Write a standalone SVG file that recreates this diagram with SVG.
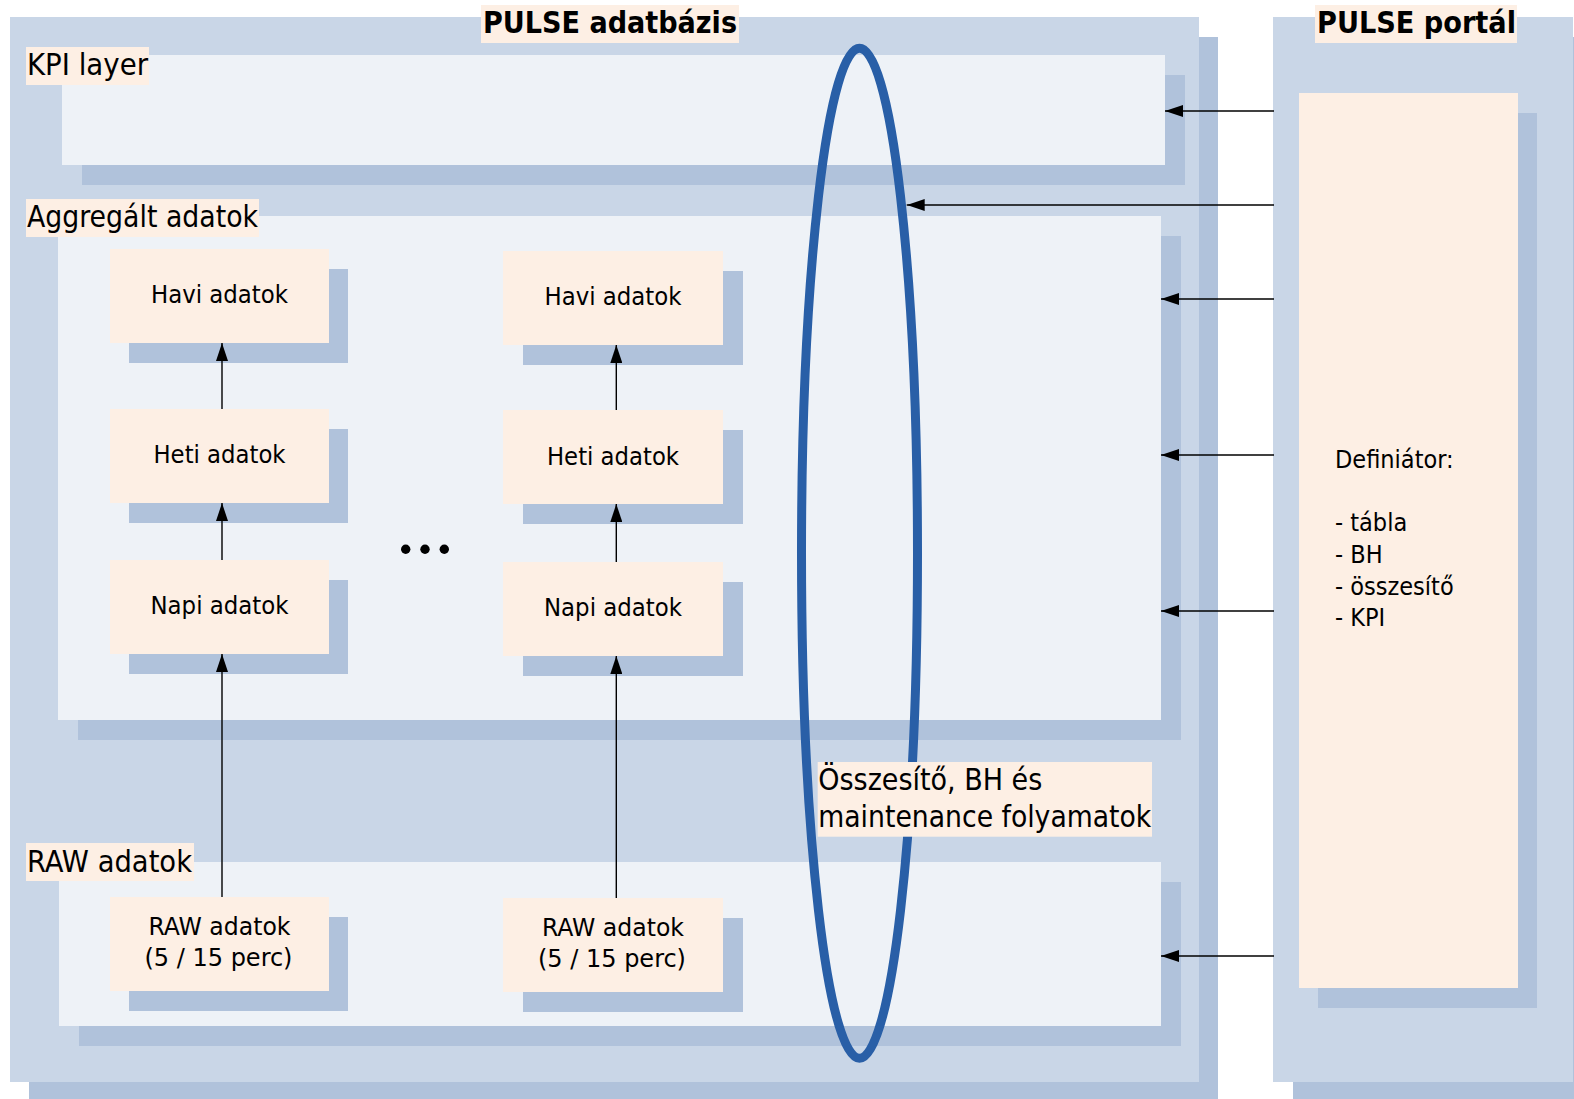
<svg xmlns="http://www.w3.org/2000/svg" width="1574" height="1099" viewBox="0 0 1574 1099">
  <defs>
    <style>
      .outer { fill: #C9D6E7; }
      .shadow { fill: #B0C2DB; }
      .inner { fill: #EEF2F7; }
      .peach { fill: #FDEFE4; }
      text { font-family: "DejaVu Sans Condensed", "DejaVu Sans", sans-serif; font-stretch: condensed; fill: #000; }
      .title { font-size: 30px; font-weight: bold; }
      .label { font-size: 30px; }
      .node { font-size: 25px; text-anchor: middle; }
      .def { font-size: 25px; }
      .conn { stroke: #000; stroke-width: 1.4; fill: none; }
    </style>
    <marker id="arrow" viewBox="0 0 18 12" refX="18" refY="6" markerWidth="18" markerHeight="12" markerUnits="userSpaceOnUse" orient="auto">
      <path d="M0,0 L18,6 L0,12 Z" fill="#000"/>
    </marker>
  </defs>

  <rect width="1574" height="1099" fill="#FFFFFF"/>

  <!-- PULSE adatbázis container -->
  <g id="db">
    <rect class="shadow" x="29" y="37" width="1189" height="1065"/>
    <rect class="outer" x="10" y="17" width="1189" height="1065"/>
    <rect class="peach" x="481" y="5" width="258" height="38"/>
    <text class="title" x="483" y="33" textLength="254" lengthAdjust="spacingAndGlyphs">PULSE adatbázis</text>
  </g>

  <!-- PULSE portál container -->
  <g id="portal">
    <rect class="shadow" x="1293" y="37" width="300" height="1065"/>
    <rect class="outer" x="1273" y="17" width="300" height="1065"/>
    <rect class="peach" x="1315" y="5" width="202" height="38"/>
    <text class="title" x="1317" y="33" textLength="199" lengthAdjust="spacingAndGlyphs">PULSE portál</text>
  </g>

  <!-- Definiátor -->
  <g id="definiator">
    <rect class="shadow" x="1318" y="113" width="219" height="895"/>
    <rect class="peach" x="1299" y="93" width="219" height="895"/>
    <text class="def" x="1335" y="468">Definiátor:</text>
    <text class="def" x="1335" y="531">- tábla</text>
    <text class="def" x="1335" y="563">- BH</text>
    <text class="def" x="1335" y="595">- összesítő</text>
    <text class="def" x="1335" y="626">- KPI</text>
  </g>

  <!-- KPI layer -->
  <g id="kpi-layer">
    <rect class="shadow" x="82" y="75" width="1103" height="110"/>
    <rect class="inner" x="62" y="55" width="1103" height="110"/>
    <rect class="peach" x="26" y="47" width="123" height="38"/>
    <text class="label" x="27" y="75" textLength="121" lengthAdjust="spacingAndGlyphs">KPI layer</text>
  </g>

  <!-- Aggregált adatok layer -->
  <g id="agg-layer">
    <rect class="shadow" x="78" y="236" width="1103" height="504"/>
    <rect class="inner" x="58" y="216" width="1103" height="504"/>
    <rect class="peach" x="26" y="199" width="233" height="38"/>
    <text class="label" x="27" y="227" textLength="231" lengthAdjust="spacingAndGlyphs">Aggregált adatok</text>
  </g>

  <!-- RAW adatok layer -->
  <g id="raw-layer">
    <rect class="shadow" x="79" y="882" width="1102" height="164"/>
    <rect class="inner" x="59" y="862" width="1102" height="164"/>
    <rect class="peach" x="26" y="843" width="168" height="38"/>
    <text class="label" x="27" y="872" textLength="165" lengthAdjust="spacingAndGlyphs">RAW adatok</text>
  </g>

  <!-- Column 1 nodes -->
  <g id="havi-1">
    <rect class="shadow" x="129" y="269" width="219" height="94"/>
    <rect class="peach" x="110" y="249" width="219" height="94"/>
    <text class="node" x="219.5" y="303" textLength="137" lengthAdjust="spacingAndGlyphs">Havi adatok</text>
  </g>
  <g id="heti-1">
    <rect class="shadow" x="129" y="429" width="219" height="94"/>
    <rect class="peach" x="110" y="409" width="219" height="94"/>
    <text class="node" x="219.5" y="463" textLength="132" lengthAdjust="spacingAndGlyphs">Heti adatok</text>
  </g>
  <g id="napi-1">
    <rect class="shadow" x="129" y="580" width="219" height="94"/>
    <rect class="peach" x="110" y="560" width="219" height="94"/>
    <text class="node" x="219.5" y="614" textLength="138" lengthAdjust="spacingAndGlyphs">Napi adatok</text>
  </g>
  <g id="raw-1">
    <rect class="shadow" x="129" y="917" width="219" height="94"/>
    <rect class="peach" x="110" y="897" width="219" height="94"/>
    <text class="node" x="219.5" y="935" textLength="142" lengthAdjust="spacingAndGlyphs">RAW adatok</text>
    <text class="node" x="218.5" y="966" textLength="148" lengthAdjust="spacingAndGlyphs">(5 / 15 perc)</text>
  </g>

  <!-- Column 2 nodes -->
  <g id="havi-2">
    <rect class="shadow" x="523" y="271" width="220" height="94"/>
    <rect class="peach" x="503" y="251" width="220" height="94"/>
    <text class="node" x="613" y="305" textLength="137" lengthAdjust="spacingAndGlyphs">Havi adatok</text>
  </g>
  <g id="heti-2">
    <rect class="shadow" x="523" y="430" width="220" height="94"/>
    <rect class="peach" x="503" y="410" width="220" height="94"/>
    <text class="node" x="613" y="465" textLength="132" lengthAdjust="spacingAndGlyphs">Heti adatok</text>
  </g>
  <g id="napi-2">
    <rect class="shadow" x="523" y="582" width="220" height="94"/>
    <rect class="peach" x="503" y="562" width="220" height="94"/>
    <text class="node" x="613" y="616" textLength="138" lengthAdjust="spacingAndGlyphs">Napi adatok</text>
  </g>
  <g id="raw-2">
    <rect class="shadow" x="523" y="918" width="220" height="94"/>
    <rect class="peach" x="503" y="898" width="220" height="94"/>
    <text class="node" x="613" y="936" textLength="142" lengthAdjust="spacingAndGlyphs">RAW adatok</text>
    <text class="node" x="612" y="967" textLength="148" lengthAdjust="spacingAndGlyphs">(5 / 15 perc)</text>
  </g>

  <!-- Ellipsis between columns -->
  <g id="ellipsis" fill="#000">
    <circle cx="405.7" cy="549.3" r="4.7"/>
    <circle cx="425" cy="549.3" r="4.7"/>
    <circle cx="444.3" cy="549.3" r="4.7"/>
  </g>

  <!-- Processing loop -->
  <g id="processes">
    <ellipse cx="859.5" cy="553.3" rx="58" ry="505" fill="none" stroke="#295FA7" stroke-width="9"/>
    <rect class="peach" x="817.7" y="762" width="334.3" height="74.7"/>
    <text class="label" x="818.3" y="790" textLength="224" lengthAdjust="spacingAndGlyphs">Összesítő, BH és</text>
    <text class="label" x="818.3" y="826.7" textLength="333" lengthAdjust="spacingAndGlyphs">maintenance folyamatok</text>
  </g>

  <!-- Connectors -->
  <g id="connectors">
    <line class="conn" x1="222" y1="409" x2="222" y2="343" marker-end="url(#arrow)"/>
    <line class="conn" x1="222" y1="560" x2="222" y2="503" marker-end="url(#arrow)"/>
    <line class="conn" x1="222" y1="897" x2="222" y2="654" marker-end="url(#arrow)"/>
    <line class="conn" x1="616.3" y1="410" x2="616.3" y2="345" marker-end="url(#arrow)"/>
    <line class="conn" x1="616.3" y1="562" x2="616.3" y2="504" marker-end="url(#arrow)"/>
    <line class="conn" x1="616.3" y1="898" x2="616.3" y2="656" marker-end="url(#arrow)"/>

    <line class="conn" x1="1274" y1="111" x2="1165" y2="111" marker-end="url(#arrow)"/>
    <line class="conn" x1="1274" y1="205" x2="906.7" y2="205" marker-end="url(#arrow)"/>
    <line class="conn" x1="1274" y1="299" x2="1161" y2="299" marker-end="url(#arrow)"/>
    <line class="conn" x1="1274" y1="455" x2="1161" y2="455" marker-end="url(#arrow)"/>
    <line class="conn" x1="1274" y1="611" x2="1161" y2="611" marker-end="url(#arrow)"/>
    <line class="conn" x1="1274" y1="956" x2="1161" y2="956" marker-end="url(#arrow)"/>
  </g>
</svg>
